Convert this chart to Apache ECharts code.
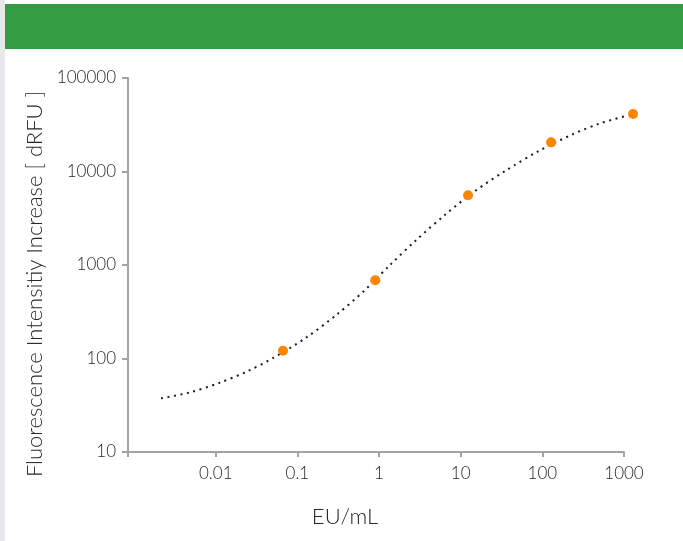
<!DOCTYPE html>
<html><head><meta charset="utf-8">
<script src="https://cdn.jsdelivr.net/npm/echarts@6/dist/echarts.min.js"></script>
<style>html,body{margin:0;padding:0;background:#fff}#c{width:683px;height:541px}</style>
</head><body><div id="c"></div>
<script>
// Tick labels
const xTickValues = [0.01, 0.1, 1, 10, 100, 1000];
const yTickValues = [10, 100, 1000, 10000, 100000];
// Measured points (EU/mL, dRFU)
const pointX = [0.0667, 0.90, 12.3, 128, 1290];
const pointY = [121, 686, 5560, 20500, 41200];
// Fitted curve
const curveX = [0.00214, 0.00489, 0.01096, 0.0240, 0.0513, 0.1277, 0.297, 0.661, 1.352, 2.92, 6.48, 14.96, 36.1, 90.2, 235, 512, 1288];
const curveY = [37.5, 43.5, 54.7, 72.4, 102, 167, 290, 532, 993, 1884, 3460, 6180, 10300, 16560, 25000, 32750, 41200];
const xAxisName = 'EU/mL';
const yAxisName = 'Fluorescence Intensitiy Increase [ dRFU ]';

const font = 'Lato, "Noto Sans", sans-serif';
const axisGray = '#a3a3a3';
const textColor = '#262626';

const chart = echarts.init(document.getElementById('c'), null, {renderer: 'canvas'});
chart.setOption({
  animation: false,
  backgroundColor: '#ffffff',
  graphic: [
    {type: 'rect', left: 0, top: 0, shape: {width: 5, height: 541}, style: {fill: '#e6e8eb'}, silent: true},
    {type: 'rect', left: 5, top: 4, shape: {width: 678, height: 45}, style: {fill: '#339c42'}, silent: true}
  ],
  grid: {left: 128, right: 59, top: 78, bottom: 89, containLabel: false},
  xAxis: {
    type: 'log', logBase: 10, min: 0.000843, max: 1000,
    name: xAxisName, nameLocation: 'middle', nameGap: 54,
    nameTextStyle: {fontFamily: font, fontSize: 22, fontWeight: 300, color: textColor, padding: [0, 62, 0, 0]},
    axisLine: {lineStyle: {color: axisGray, width: 2}},
    axisTick: {show: true, length: 5, lineStyle: {color: axisGray, width: 2}, customValues: [0.000843].concat(xTickValues)},
    axisLabel: {fontFamily: font, fontSize: 17, fontWeight: 300, color: textColor, margin: 13, customValues: xTickValues,
      formatter: v => String(+Number(v).toPrecision(6))},
    splitLine: {show: false},
    minorTick: {show: false}
  },
  yAxis: {
    type: 'log', logBase: 10, min: 10, max: 100000,
    name: yAxisName, nameLocation: 'middle', nameGap: 80,
    nameTextStyle: {fontFamily: font, fontSize: 22, fontWeight: 300, color: textColor, padding: [0, 38, 0, 0]},
    axisLine: {show: true, lineStyle: {color: axisGray, width: 2}},
    axisTick: {show: true, length: 6, lineStyle: {color: axisGray, width: 2}},
    axisLabel: {fontFamily: font, fontSize: 17, fontWeight: 300, color: textColor, margin: 12,
      formatter: v => String(Math.round(v))},
    splitLine: {show: false}
  },
  series: [
    {
      type: 'line', data: curveX.map((x, i) => [x, curveY[i]]), z: 2,
      smooth: 0.3, symbol: 'none', clip: false, silent: true,
      lineStyle: {color: '#1a1a1a', width: 2, type: [2, 4.6], cap: 'butt'}
    },
    {
      type: 'scatter', data: pointX.map((x, i) => [x, pointY[i]]), z: 5,
      symbol: 'circle', symbolSize: 10, clip: false,
      itemStyle: {color: '#ff8500', opacity: 1}
    }
  ]
});
</script></body></html>
